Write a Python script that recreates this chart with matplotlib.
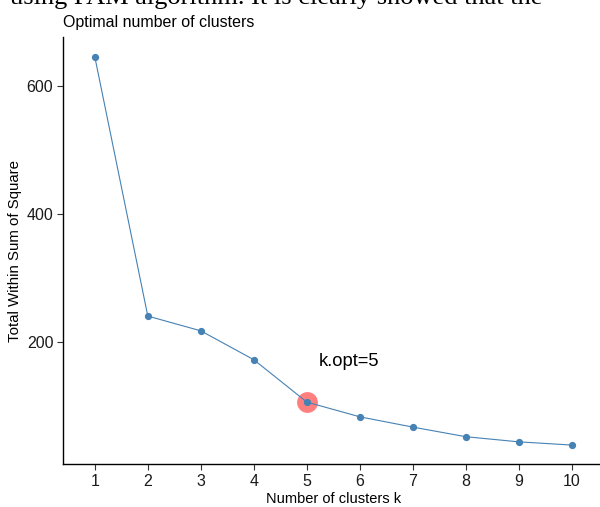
import matplotlib
matplotlib.use("Agg")
import matplotlib.pyplot as plt

# elbow curve
k_values = [1, 2, 3, 4, 5, 6, 7, 8, 9, 10]
wss = [645, 241, 218, 173, 107, 84, 68, 53, 45, 40]
k_opt = 5
y_ticks = [200, 400, 600]
caption_above = "using PAM algorithm. It is clearly showed that the"

plt.rcParams['font.family'] = ['Liberation Sans', 'DejaVu Sans']

fig = plt.figure(figsize=(6.0, 5.07), dpi=100)
ax = fig.add_axes([0.105, 0.0842, 0.901, 0.843])

ax.plot(k_values, wss, color='#4682B4', lw=0.8, marker='o', ms=4.2,
        mec='#4682B4', mfc='#4682B4', zorder=3)
ax.plot([k_opt], [wss[k_opt - 1]], 'o', color='red', alpha=0.5, ms=15,
        mec='none', zorder=2)
ax.text(5.79, 163, f"k.opt={k_opt}", fontsize=13.2, ha='center',
        va='baseline', color='black')

ax.set_xlim(0.4, 10.6)
ax.set_ylim(10, 676)
ax.set_xticks(k_values)
ax.set_yticks(y_ticks)
ax.tick_params(labelsize=11.5, length=4, width=0.8, color='#333333',
               labelcolor='#1a1a1a', pad=3)

for side in ['top', 'right']:
    ax.spines[side].set_visible(False)
for side in ['left', 'bottom']:
    ax.spines[side].set_linewidth(1.0)

ax.set_xlabel("Number of clusters k", fontsize=10.5, labelpad=2)
ax.set_ylabel("Total Within Sum of Square", fontsize=10.8, labelpad=3)
fig.text(0.105, 1 - 22 / 507, "Optimal number of clusters", fontsize=11.5,
         ha='left', va='center')

# cut-off line of the surrounding document at the top edge
fig.text(10 / 600, 1 - 4 / 507, caption_above, fontsize=19,
         family='Liberation Serif', ha='left', va='baseline')

fig.savefig("out.png", dpi=100)
